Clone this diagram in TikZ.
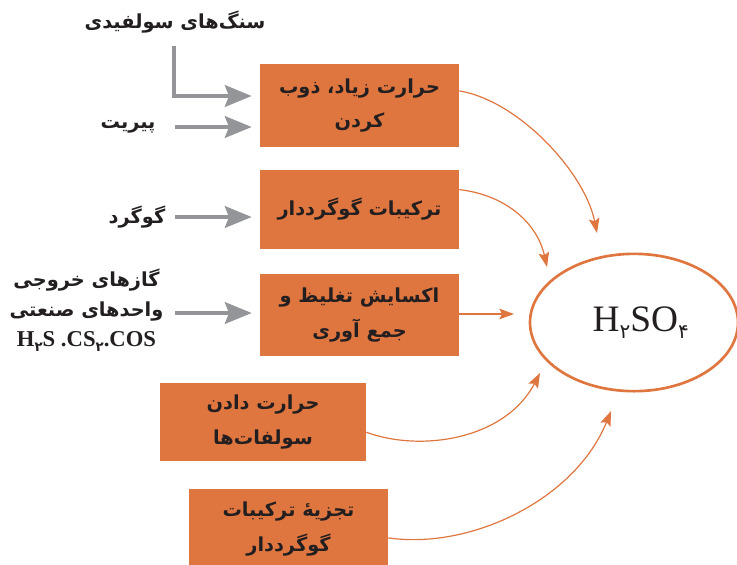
\documentclass[tikz,border=0pt]{standalone}
\usepackage{fontspec}
\setmainfont{Liberation Serif}
\newfontfamily\fa[Script=Arabic]{DejaVu Sans}
\TeXXeTstate=1
\usetikzlibrary{arrows.meta,positioning,shapes.geometric,calc}
\definecolor{boxorange}{RGB}{224,118,63}
\definecolor{arrowgray}{RGB}{147,149,152}
\definecolor{txtdark}{RGB}{35,31,32}
\newcommand{\rtl}[1]{\beginR #1\endR}
\newcommand{\fasub}[2]{\raisebox{-0.45ex}{\fontsize{#1}{#1}\selectfont\fa #2}}
\begin{document}
\begin{tikzpicture}[x=0.75pt,y=0.75pt,
  box/.style={fill=boxorange, text=txtdark, inner sep=0pt, align=center, minimum width=149.25pt,
    font=\fa\bfseries\fontsize{14.5}{26}\selectfont},
  lbl/.style={text=txtdark, inner sep=0pt, align=center, font=\fa\bfseries\fontsize{14.5}{22.5}\selectfont},
  garrow/.style={draw=arrowgray, line width=3.6pt, -{Stealth[length=20pt,width=16pt,inset=3pt]}, shorten >=6pt},
  oarrow/.style={draw=boxorange, line width=0.9pt, -{Stealth[length=11pt,width=8pt,inset=2pt]}}]
\useasboundingbox (0,0) rectangle (737,-564);
% boxes
\node[box, minimum height=62.25pt] (b1) at (359.5,-105.5) {\rtl{حرارت زیاد، ذوب}\\\rtl{کردن}};
\node[box, minimum height=59.25pt] (b2) at (359.5,-209.5) {\rtl{ترکیبات گوگرددار}};
\node[box, minimum height=61.5pt] (b3) at (359.5,-315) {\rtl{اکسایش تغلیظ و}\\\rtl{جمع آوری}};
\node[box, minimum height=58.5pt, minimum width=154.5pt] (b4) at (263,-422) {\rtl{حرارت دادن}\\\rtl{سولفات‌ها}};
\node[box, minimum height=60pt] (b5) at (288.5,-529) {\rtl{تجزیهٔ ترکیبات}\\\rtl{گوگرددار}};
% product
\node[ellipse, draw=boxorange, line width=2pt, minimum width=156pt, minimum height=103pt,
  font=\fontsize{28}{30}\selectfont, text=txtdark] (acid) at (634,-322.5)
  {\hspace{10pt}H\fasub{15}{۲}SO\fasub{15}{۴}};
% raw materials
\node[lbl] (sulf) at (175,-22) {\rtl{سنگ‌های سولفیدی}};
\node[lbl] (pyr) at (128,-127) {\rtl{پیریت}};
\node[lbl] (gog) at (137,-217) {\rtl{گوگرد}};
\node[lbl] (gas) at (86.5,-310) {\rtl{گازهای خروجی}\\\rtl{واحدهای صنعتی}\\
  {\rmfamily\bfseries\fontsize{17}{22.5}\selectfont H\fasub{10}{۲}S .CS\fasub{10}{۲}.COS}};
\coordinate (sulfS) at (174,-46);
\coordinate (sulfK) at (174,-96);
\coordinate (pyrS) at (175,-127);
\coordinate (gogS) at (175,-217);
\coordinate (gasS) at (175,-313);
\draw[garrow] (sulfS) -- (sulfK) -- (sulfK -| b1.west);
\draw[garrow] (pyrS) -- (pyrS -| b1.west);
\draw[garrow] (gogS) -- (gogS -| b2.west);
\draw[garrow] (gasS) -- (gasS -| b3.west);
% to H2SO4
\coordinate (t1) at (597,-233);
\coordinate (t2) at (547,-267);
\coordinate (t3) at (514,-314);
\coordinate (t4) at (540,-373);
\coordinate (t5) at (611,-411);
\draw[oarrow] ($(b1.north east)!0.325!(b1.south east)$) .. controls +(60,-10) and +(-12,60) .. (t1);
\draw[oarrow] ($(b2.north east)!0.25!(b2.south east)$) .. controls +(45,-5) and +(-10,45) .. (t2);
\draw[oarrow] (b3.east |- t3) -- (t3);
\draw[oarrow] ($(b4.north east)!0.63!(b4.south east)$) .. controls +(54,-20) and +(-35,-67) .. (t4);
\draw[oarrow] ($(b5.north east)!0.61!(b5.south east)$) .. controls +(82,-12) and +(-36,-89) .. (t5);
\end{tikzpicture}
\end{document}
